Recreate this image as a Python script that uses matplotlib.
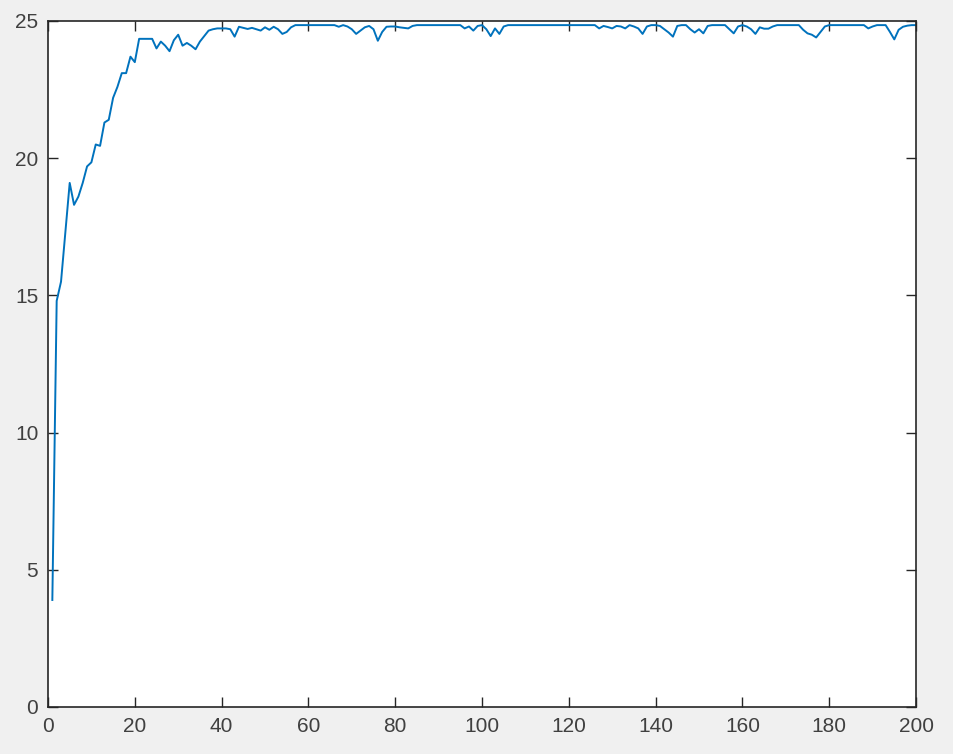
import numpy as np
import matplotlib
matplotlib.use("Agg")
import matplotlib.pyplot as plt

# values, one per iteration 1..200
head = [3.9, 14.8, 15.5, 17.3, 19.1, 18.3, 18.6, 19.1, 19.7, 19.85,
        20.5, 20.45, 21.3, 21.4, 22.2, 22.6, 23.1, 23.1, 23.7, 23.5,
        24.35, 24.35, 24.35, 24.35, 24.0, 24.25, 24.1, 23.9, 24.3, 24.5,
        24.1, 24.2, 24.1, 23.97, 24.25, 24.45, 24.65, 24.7, 24.73, 24.73,
        24.73, 24.7, 24.43, 24.79, 24.75, 24.71, 24.75, 24.7, 24.65, 24.77,
        24.68, 24.79, 24.7, 24.53, 24.6, 24.77, 24.85, 24.85, 24.85, 24.85]
mid1 = [24.85, 24.85, 24.85, 24.85, 24.85, 24.85, 24.79, 24.85, 24.8, 24.7,
        24.53, 24.65, 24.77, 24.82, 24.7, 24.28, 24.6, 24.79, 24.8, 24.8,
        24.77, 24.75, 24.73, 24.82, 24.85, 24.85, 24.85, 24.85, 24.85, 24.85,
        24.85, 24.85, 24.85, 24.85, 24.85, 24.73, 24.8, 24.65, 24.82, 24.85]
mid2 = [24.7, 24.45, 24.73, 24.53, 24.8, 24.85, 24.85, 24.85, 24.85, 24.85,
        24.85, 24.85, 24.85, 24.85, 24.85, 24.85, 24.85, 24.85, 24.85, 24.85,
        24.85, 24.85, 24.85, 24.85, 24.85, 24.85, 24.73, 24.82, 24.78, 24.73,
        24.82, 24.8, 24.73, 24.85, 24.8, 24.73, 24.53, 24.8, 24.85, 24.85]
tail = [24.82, 24.7, 24.58, 24.43, 24.82, 24.85, 24.85, 24.7, 24.58, 24.7,
        24.55, 24.82, 24.85, 24.85, 24.85, 24.85, 24.7, 24.55, 24.8, 24.85,
        24.8, 24.7, 24.53, 24.77, 24.72, 24.72, 24.8, 24.85, 24.85, 24.85,
        24.85, 24.85, 24.85, 24.68, 24.55, 24.5, 24.4, 24.6, 24.8, 24.85,
        24.85, 24.85, 24.85, 24.85, 24.85, 24.85, 24.85, 24.85, 24.73, 24.8,
        24.85, 24.85, 24.85, 24.6, 24.33, 24.68, 24.79, 24.83, 24.85, 24.85]

y = np.array(head + mid1 + mid2 + tail)
x = np.arange(1, len(y) + 1)

xticks = list(range(0, 201, 20))
yticks = [0, 5, 10, 15, 20, 25]

fig = plt.figure(figsize=(9.54, 7.54), dpi=100, facecolor='#f0f0f0')
ax = fig.add_axes([48 / 954, 1 - 707 / 754, 868 / 954, 686 / 754])
ax.plot(x, y, color='#0072bd', lw=1.4)

ax.set_xlim(0, 200)
ax.set_ylim(0, 25)
ax.set_xticks(xticks)
ax.set_yticks(yticks)
ax.tick_params(direction='in', length=7, width=1, colors='#262626',
               top=True, right=True, labelsize=15, pad=7)
for lab in ax.get_xticklabels() + ax.get_yticklabels():
    lab.set_fontfamily('Liberation Sans')
    lab.set_color('#404040')
for s in ax.spines.values():
    s.set_color('#262626')
    s.set_linewidth(1.2)

fig.savefig('out.png', dpi=100, facecolor=fig.get_facecolor())
